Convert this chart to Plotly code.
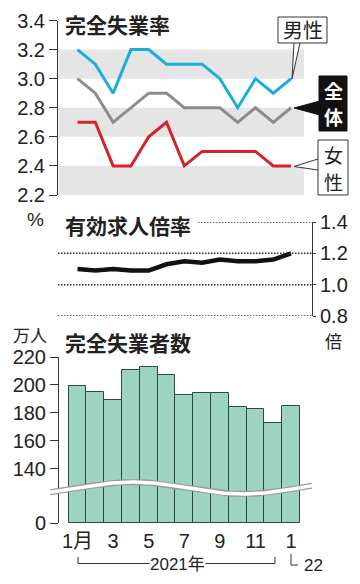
import numpy as np
import plotly.graph_objects as go

# ---------------- data ----------------
months = list(range(13))  # 2021-01 .. 2022-01
month_ticks = [0, 2, 4, 6, 8, 10, 12]
month_labels = ["1月", "3", "5", "7", "9", "11", "1"]

rate_male = [3.2, 3.1, 2.9, 3.2, 3.2, 3.1, 3.1, 3.1, 3.0, 2.8, 3.0, 2.9, 3.0]
rate_total = [3.0, 2.9, 2.7, 2.8, 2.9, 2.9, 2.8, 2.8, 2.8, 2.7, 2.8, 2.7, 2.8]
rate_female = [2.7, 2.7, 2.4, 2.4, 2.6, 2.7, 2.4, 2.5, 2.5, 2.5, 2.5, 2.4, 2.4]
rate_ticks = [2.2, 2.4, 2.6, 2.8, 3.0, 3.2, 3.4]

job_ratio = [1.10, 1.09, 1.10, 1.09, 1.09, 1.13, 1.15, 1.14, 1.16, 1.15, 1.15, 1.16, 1.20]
job_ticks = [0.8, 1.0, 1.2, 1.4]

unemployed = [199, 195, 189, 211, 213, 207, 193, 194, 194, 184, 183, 173, 185]
unemp_ticks = [140, 160, 180, 200, 220]
AXIS_ZERO = 101.4  # where "0" sits on the broken axis

# ---------------- helpers ----------------
W, H = 360, 584
def PX(x): return x / W
def PY(y): return 1 - y / H

S = 17.8      # px per month
X0 = 77.5     # px of first month
def xr(l, r): return [(l - X0) / S, (r - X0) / S]

TXT = "#222222"
NUM_FONT = dict(family="Liberation Sans, Noto Sans CJK JP", size=20, color=TXT)
JP = "Noto Sans CJK JP"

fig = go.Figure()

# ---- top: unemployment rate ----
for vals, col in [(rate_male, "#1aaed8"), (rate_total, "#8c8c8c"), (rate_female, "#d3232b")]:
    fig.add_trace(go.Scatter(x=months, y=vals, mode="lines", xaxis="x", yaxis="y",
                             line=dict(color=col, width=3), showlegend=False))

# ---- middle: jobs ratio ----
fig.add_trace(go.Scatter(x=months, y=job_ratio, mode="lines", xaxis="x2", yaxis="y2",
                         line=dict(color="#111111", width=4.5), showlegend=False))

# ---- bottom: unemployed (broken axis) ----
fig.add_trace(go.Bar(x=months, y=[v - AXIS_ZERO for v in unemployed], base=AXIS_ZERO,
                     customdata=unemployed, hovertemplate="%{customdata}万人<extra></extra>",
                     width=1, xaxis="x3", yaxis="y3",
                     marker=dict(color="#9cd4c1", line=dict(color="#2e4a42", width=1)),
                     showlegend=False))
# axis-break wave (decoration)
wx = np.linspace((50 - X0) / S, (312 - X0) / S, 200)
wy = 126.4 + 4.3 * np.cos(2 * np.pi * (wx - 3.1) / 12.4)
fig.add_trace(go.Scatter(x=wx, y=wy, mode="lines", xaxis="x3", yaxis="y3",
                         line=dict(color="#9a9a9a", width=6), hoverinfo="skip", showlegend=False))
fig.add_trace(go.Scatter(x=wx, y=wy, mode="lines", xaxis="x3", yaxis="y3",
                         line=dict(color="#ffffff", width=3.5), hoverinfo="skip", showlegend=False))

shapes = []
# grey bands in top chart
for lo, hi in [(3.0, 3.2), (2.6, 2.8), (2.2, 2.4)]:
    shapes.append(dict(type="rect", xref="paper", yref="y", x0=PX(58.5), x1=PX(304),
                       y0=lo, y1=hi, fillcolor="#e5e5e5", line=dict(width=0), layer="below"))
# dotted grid in middle chart
for v in job_ticks:
    left = 198 if v == 1.4 else 58
    shapes.append(dict(type="line", xref="paper", yref="y2", x0=PX(left), x1=PX(312),
                       y0=v, y1=v, line=dict(color="#333333", width=1.5, dash="1.5px,1.5px")))

def path(pts, close=False):
    s = "M " + " L ".join(f"{PX(x):.5f},{PY(y):.5f}" for x, y in pts)
    return s + (" Z" if close else "")

# label boxes & pointers
shapes.append(dict(type="path", xref="paper", yref="paper",
                   path=path([(294, 43), (292, 79), (300, 43)]),
                   fillcolor="white", line=dict(color="#333333", width=1)))
shapes.append(dict(type="rect", xref="paper", yref="paper", x0=PX(278), x1=PX(327),
                   y0=PY(43), y1=PY(17), fillcolor="white", line=dict(color="#333333", width=1)))
shapes.append(dict(type="path", xref="paper", yref="paper",
                   path=path([(294, 108), (320, 101), (320, 115)], True),
                   fillcolor="#111111", line=dict(color="#111111", width=1)))
shapes.append(dict(type="rect", xref="paper", yref="paper", x0=PX(319), x1=PX(347),
                   y0=PY(131), y1=PY(76), fillcolor="#111111", line=dict(color="#111111", width=1)))
shapes.append(dict(type="path", xref="paper", yref="paper",
                   path=path([(318, 159), (294, 166.5), (318, 170)]),
                   fillcolor="white", line=dict(color="#333333", width=1)))
shapes.append(dict(type="rect", xref="paper", yref="paper", x0=PX(318), x1=PX(348),
                   y0=PY(195), y1=PY(140), fillcolor="white", line=dict(color="#333333", width=1)))
# 2021 bracket
shapes.append(dict(type="path", xref="paper", yref="paper",
                   path=path([(78, 557), (78, 563.5), (275, 563.5), (275, 557)]),
                   line=dict(color="#333333", width=1)))
shapes.append(dict(type="path", xref="paper", yref="paper",
                   path=path([(291, 554), (291, 565), (298, 565)]),
                   line=dict(color="#333333", width=1)))

ann = []
def A(text, x, y, size=20, color=TXT, bold=False, xanchor="center", bg=None, family=JP):
    d = dict(text=f"<b>{text}</b>" if bold else text, x=PX(x), y=PY(y), xref="paper", yref="paper",
             showarrow=False, xanchor=xanchor, yanchor="middle", borderpad=0,
             font=dict(family=family, size=size, color=color))
    if bg:
        d["bgcolor"] = bg
    ann.append(d)

A("完全失業率", 64, 24, 21, bold=True, xanchor="left")
A("%", 35, 220, 19, family="Liberation Sans")
A("有効求人倍率", 64, 225, 21, bold=True, xanchor="left")
A("倍", 333, 341, 17)
A("万人", 30, 334, 17)
A("完全失業者数", 64, 342, 21, bold=True, xanchor="left")
A("男性", 302.5, 30, 20)
A("全", 333, 90, 19, color="white", bold=True)
A("体", 333, 117, 19, color="white", bold=True)
A("女", 333, 154, 19)
A("性", 333, 181, 19)
A("2021年", 177, 564, 17, bg="white", family="Liberation Sans, Noto Sans CJK JP")
A("22", 313, 565, 17, family="Liberation Sans")

axis_common = dict(showgrid=False, zeroline=False, linecolor="#333333", linewidth=1,
                   tickcolor="#333333", tickfont=NUM_FONT, fixedrange=True, automargin=False)

fig.update_layout(
    width=W, height=H, margin=dict(l=0, r=0, t=0, b=0, pad=0, autoexpand=False),
    paper_bgcolor="white", plot_bgcolor="rgba(0,0,0,0)",
    xaxis=dict(domain=[PX(58), PX(304)], range=xr(58, 304), visible=False, anchor="y", automargin=False),
    yaxis=dict(domain=[PY(195), PY(20.5)], range=[2.2, 3.4], anchor="x",
               tickvals=rate_ticks, ticktext=[f"{v:.1f}" for v in rate_ticks],
               showline=True, ticks="outside", ticklen=8, **axis_common),
    xaxis2=dict(domain=[PX(58), PX(312)], range=xr(58, 312), visible=False, anchor="y2", automargin=False),
    yaxis2=dict(domain=[PY(316), PY(222)], range=[0.8, 1.4], anchor="x2", side="right",
                tickvals=job_ticks, ticktext=[f"{v:.1f}" for v in job_ticks],
                showline=True, ticks="outside", ticklen=3, **axis_common),
    xaxis3=dict(domain=[PX(50), PX(312)], range=xr(50, 312), anchor="y3",
                tickvals=month_ticks, ticktext=month_labels, ticks="", showline=False,
                ticklabelstandoff=4, **{k: v for k, v in axis_common.items() if k not in ("linecolor", "linewidth")}),
    yaxis3=dict(domain=[PY(523), PY(357)], range=[AXIS_ZERO, 220], anchor="free", position=PX(58),
                tickvals=[AXIS_ZERO] + unemp_ticks, ticktext=["0"] + [str(v) for v in unemp_ticks],
                showline=True, ticks="outside", ticklen=8, layer="below traces", **axis_common),
    shapes=shapes, annotations=ann, bargap=0,
)

fig.write_html("out.html", config={"displayModeBar": False},
               post_script="document.body.style.margin='0';")
